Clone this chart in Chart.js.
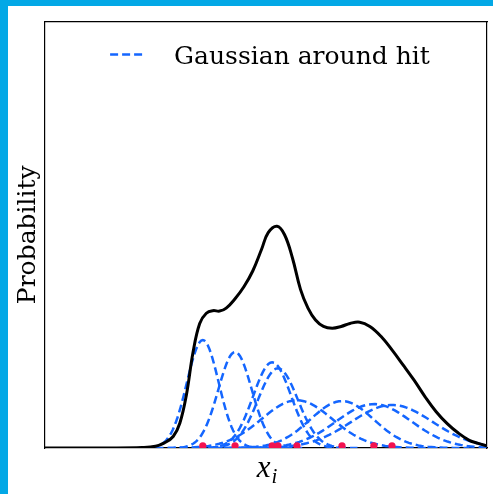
<!DOCTYPE html>
<html lang="en">
<head>
    <meta charset="UTF-8">
    <title>Gaussian around hit</title>
    <script src="https://cdn.jsdelivr.net/npm/chart.js"></script>
    <style>
        html, body {
            margin: 0;
            padding: 0;
            background: #fff;
        }
        body {
            width: 485px;
            height: 488px;
            border-left: 8px solid #03a8e6;
            border-top: 6px solid #03a8e6;
            overflow: hidden;
        }
        canvas {
            display: block;
        }
    </style>
</head>
<body>
    <canvas id="kdeChart" width="485" height="488"></canvas>
    <script>
        // Black density curve
        const curveX = [0, 1.5, 2.2, 2.5, 2.7, 2.9, 3.05, 3.2, 3.35, 3.5, 3.65, 3.8, 3.95, 4.1,
            4.3, 4.5, 4.7, 4.9, 5.05, 5.25, 5.42, 5.6, 5.78, 5.95, 6.12, 6.3, 6.5, 6.7,
            6.9, 7.12, 7.35, 7.6, 7.85, 8.1, 8.35, 8.6, 8.85, 9.1, 9.35, 9.6, 9.8, 10];
        const curveY = [0, 0, 0.001, 0.004, 0.012, 0.027, 0.058, 0.125, 0.225, 0.292, 0.316, 0.322, 0.321, 0.328,
            0.350, 0.378, 0.415, 0.466, 0.505, 0.520, 0.500, 0.445, 0.372, 0.328, 0.300, 0.285, 0.281, 0.285,
            0.292, 0.295, 0.285, 0.262, 0.230, 0.195, 0.159, 0.120, 0.085, 0.057, 0.035, 0.018, 0.011, 0.005];

        // Hits (red dots) and the Gaussian drawn around each one
        const hits = [3.57, 4.30, 5.14, 5.27, 5.70, 6.72, 7.44, 7.85];
        const gaussPeak = [0.253, 0.225, 0.201, 0.187, 0.112, 0.110, 0.103, 0.101];
        const gaussWidth = [0.36, 0.38, 0.43, 0.45, 0.80, 0.72, 0.85, 0.92];

        const legendLabel = 'Gaussian around hit';
        const xLabel = 'x';
        const xLabelSub = 'i';
        const yLabel = 'Probability';

        const blue = '#1466ff';
        const red = '#f2124f';

        function gaussCurve(mu, peak, sigma) {
            const pts = [];
            const lo = Math.max(0, mu - 4 * sigma);
            const hi = Math.min(10, mu + 4 * sigma);
            const n = 80;
            for (let k = 0; k <= n; k++) {
                const x = lo + (hi - lo) * k / n;
                pts.push({x: x, y: peak * Math.exp(-((x - mu) ** 2) / (2 * sigma * sigma))});
            }
            return pts;
        }

        const datasets = [];
        datasets.push({
            label: 'hits',
            data: hits.map(h => ({x: h, y: 0.005})),
            pointRadius: 3.6,
            pointBackgroundColor: red,
            pointBorderWidth: 0,
            showLine: false
        });
        datasets.push({
            label: 'density',
            data: curveX.map((x, i) => ({x: x, y: curveY[i]})),
            borderColor: '#000',
            borderWidth: 3,
            pointRadius: 0,
            showLine: true,
            tension: 0.4
        });
        hits.forEach((h, i) => {
            datasets.push({
                label: i === 0 ? legendLabel : 'g' + i,
                data: gaussCurve(h, gaussPeak[i], gaussWidth[i]),
                borderColor: blue,
                borderWidth: 2.5,
                borderDash: [8, 4],
                pointRadius: 0,
                showLine: true,
                tension: 0
            });
        });

        // legend drawn inside the plot box, top centre
        const innerLegend = {
            id: 'innerLegend',
            afterDatasetsDraw(chart) {
                const {ctx, chartArea} = chart;
                ctx.save();
                ctx.font = '25px "DejaVu Serif"';
                const tw = ctx.measureText(legendLabel).width;
                const groupW = 36 + 28 + tw;
                const cx = (chartArea.left + chartArea.right) / 2 + 4;
                const x0 = cx - groupW / 2;
                const yMid = chartArea.top + 33;
                ctx.strokeStyle = blue;
                ctx.lineWidth = 2.5;
                ctx.setLineDash([8, 4]);
                ctx.beginPath();
                ctx.moveTo(x0, yMid);
                ctx.lineTo(x0 + 36, yMid);
                ctx.stroke();
                ctx.setLineDash([]);
                ctx.fillStyle = '#000';
                ctx.textBaseline = 'alphabetic';
                ctx.fillText(legendLabel, x0 + 64, chartArea.top + 42);
                ctx.restore();
            }
        };

        // x label with a subscript
        const xAxisLabel = {
            id: 'xAxisLabel',
            afterDraw(chart) {
                const {ctx, chartArea} = chart;
                ctx.save();
                ctx.fillStyle = '#000';
                ctx.textBaseline = 'alphabetic';
                ctx.font = 'italic 31px "Liberation Serif"';
                const w1 = ctx.measureText(xLabel).width;
                ctx.font = 'italic 21px "Liberation Serif"';
                const w2 = ctx.measureText(xLabelSub).width;
                const cx = (chartArea.left + chartArea.right) / 2 + 1;
                const x0 = cx - (w1 + w2 + 1) / 2;
                ctx.font = 'italic 31px "Liberation Serif"';
                ctx.fillText(xLabel, x0, chartArea.bottom + 29);
                ctx.font = 'italic 21px "Liberation Serif"';
                ctx.fillText(xLabelSub, x0 + w1 + 1, chartArea.bottom + 35);
                ctx.restore();
            }
        };

        const hidden = {display: false};
        const frame = {display: true, color: '#000', width: 1.2};

        new Chart(document.getElementById('kdeChart'), {
            type: 'scatter',
            data: {datasets: datasets},
            options: {
                responsive: false,
                animation: false,
                devicePixelRatio: 1,
                layout: {padding: {top: 15.5, right: 6, bottom: 46, left: 0}},
                plugins: {
                    legend: {display: false},
                    tooltip: {enabled: false}
                },
                scales: {
                    x: {
                        type: 'linear', position: 'bottom', min: 0, max: 10,
                        ticks: hidden, grid: {display: false, drawTicks: false}, border: frame
                    },
                    x2: {
                        type: 'linear', position: 'top', min: 0, max: 10,
                        ticks: hidden, grid: {display: false, drawTicks: false}, border: frame
                    },
                    y: {
                        type: 'linear', position: 'left', min: 0, max: 1,
                        ticks: hidden, grid: {display: false, drawTicks: false}, border: frame,
                        title: {
                            display: true,
                            text: yLabel,
                            color: '#000',
                            font: {family: '"DejaVu Serif"', size: 25},
                            padding: {top: 5.5, bottom: 1.5}
                        }
                    },
                    y2: {
                        type: 'linear', position: 'right', min: 0, max: 1,
                        ticks: hidden, grid: {display: false, drawTicks: false}, border: frame
                    }
                }
            },
            plugins: [innerLegend, xAxisLabel]
        });
    </script>
</body>
</html>
